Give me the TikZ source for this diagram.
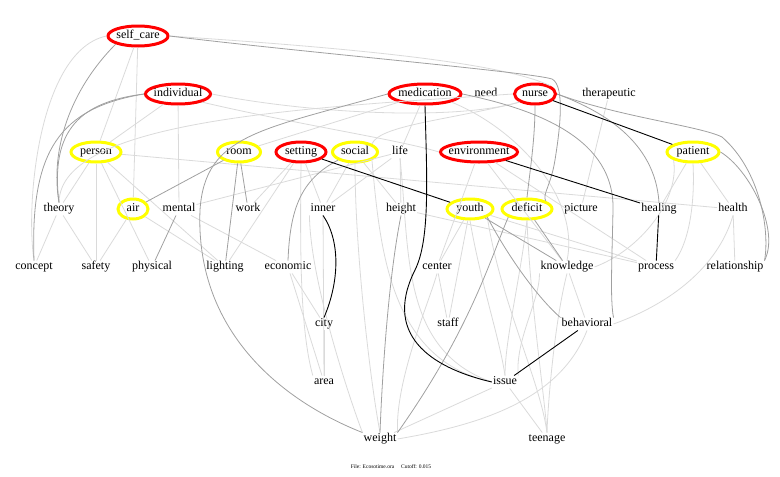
\documentclass[tikz,border=0pt]{standalone}
\usepackage{fontspec}
\setmainfont{Liberation Serif}
\usepackage{tikz}
\usetikzlibrary{shapes.geometric}
\definecolor{hotcolor}{RGB}{255,0,0}
\definecolor{warmcolor}{RGB}{255,255,0}
\definecolor{litecolor}{RGB}{218,218,218}
\definecolor{midcolor}{RGB}{160,160,160}

\begin{document}
\begin{tikzpicture}[
    x=1pt, y=-1pt,
    every node/.style={font=\fontsize{12}{14}\selectfont, text height=8pt, text depth=2.5pt},
    term/.style={inner sep=1pt},
    ring/.style={ellipse, line width=3pt, inner xsep=-5pt, inner ysep=-3pt, minimum height=20pt, minimum width=#1},
    hot/.style={ring=#1, draw=hotcolor},
    warm/.style={ring=#1, draw=warmcolor},
    lite/.style={draw=litecolor, line width=0.8pt},
    mid/.style={draw=midcolor, line width=0.8pt},
    strong/.style={draw=black, line width=0.9pt}
]
    \useasboundingbox (0,0) rectangle (780,477);

    % Row 1 and 2
    \node[hot=60] (selfcare) at (138,36) {self\_care};
    \node[hot=65] (individual) at (178,94) {individual};
    \node[hot=72] (medication) at (425,94) {medication};
    \node[term] (need) at (486,94) {need};
    \node[hot=41] (nurse) at (535,94) {nurse};
    \node[term] (therapeutic) at (609,94) {therapeutic};

    % Row 3
    \node[warm=50] (person) at (96,152) {person};
    \node[warm=43] (room) at (239,152) {room};
    \node[hot=50] (setting) at (301,152) {setting};
    \node[warm=45] (social) at (355,152) {social};
    \node[term] (life) at (400,152) {life};
    \node[hot=77] (environment) at (479,152) {environment};
    \node[warm=52] (patient) at (693,152) {patient};

    % Row 4
    \node[term] (theory) at (59,209) {theory};
    \node[warm=30] (air) at (133,209) {air};
    \node[term] (mental) at (179,209) {mental};
    \node[term] (work) at (248,209) {work};
    \node[term] (inner) at (323,209) {inner};
    \node[term] (height) at (401,209) {height};
    \node[warm=46] (youth) at (470,209) {youth};
    \node[warm=50] (deficit) at (527,209) {deficit};
    \node[term] (picture) at (581,209) {picture};
    \node[term] (healing) at (659,209) {healing};
    \node[term] (health) at (733,209) {health};

    % Row 5
    \node[term] (concept) at (34,267) {concept};
    \node[term] (safety) at (96,267) {safety};
    \node[term] (physical) at (152,267) {physical};
    \node[term] (lighting) at (225,267) {lighting};
    \node[term] (economic) at (288,267) {economic};
    \node[term] (center) at (437,267) {center};
    \node[term] (knowledge) at (567,267) {knowledge};
    \node[term] (process) at (656,267) {process};
    \node[term] (relationship) at (735,267) {relationship};

    % Rows 6 to 8
    \node[term] (city) at (324,324) {city};
    \node[term] (staff) at (448,324) {staff};
    \node[term] (behavioral) at (587,324) {behavioral};
    \node[term] (area) at (324,382) {area};
    \node[term] (issue) at (505,382) {issue};
    \node[term] (weight) at (380,439) {weight};
    \node[term] (teenage) at (547,439) {teenage};

    % Footer
    \node[font=\fontsize{5.5}{6}\selectfont] (footer) at (391,466) {File: Ecosotime.ora\quad\ Cutoff: 0.015};

    % Weak links
    \draw[lite] (selfcare.west) .. controls (40,50) and (25,200) .. (concept.north);
    \draw[lite] (selfcare) -- (person);
    \draw[lite] (selfcare) -- (air);
    \draw[lite] (selfcare.east) .. controls (350,48) and (500,62) .. (nurse.north east);
    \draw[lite] (individual) -- (mental);
    \draw[lite] (individual) -- (person);
    \draw[lite] (individual.east) .. controls (300,112) and (450,122) .. (nurse.south west);
    \draw[lite] (individual.south east) .. controls (300,125) and (400,140) .. (environment.west);
    \draw[lite] (person) -- (theory);
    \draw[lite] (person) -- (safety);
    \draw[lite] (person) -- (physical);
    \draw[lite] (person) -- (lighting);
    \draw[lite] (person) -- (health);
    \draw[lite] (theory) -- (concept);
    \draw[lite] (theory) -- (safety);
    \draw[lite] (air) -- (safety);
    \draw[lite] (air) -- (lighting);
    \draw[lite] (mental) -- (economic);
    \draw[lite] (mental) -- (life);
    \draw[lite] (nurse.west) .. controls (300,108) and (60,120) .. (theory.north);
    \draw[lite] (nurse.south west) .. controls (450,120) and (380,125) .. (social.north east);
    \draw[lite] (medication) -- (room);
    \draw[lite] (medication) -- (life);
    \draw[lite] (medication.south east) .. controls (520,130) and (580,200) .. (knowledge.north);
    \draw[lite] (setting) -- (inner);
    \draw[lite] (setting) -- (work);
    \draw[lite] (setting) -- (lighting);
    \draw[lite] (setting.south) .. controls (300,250) and (300,330) .. (area.north west);
    \draw[lite] (social) -- (inner);
    \draw[lite] (social) -- (height);
    \draw[lite] (social.south) .. controls (355,250) and (370,380) .. (weight.north);
    \draw[lite] (social.south east) .. controls (380,250) and (390,360) .. (issue.west);
    \draw[lite] (life) -- (height);
    \draw[lite] (life) -- (inner);
    \draw[lite] (life.south) .. controls (410,250) and (400,350) .. (issue.west);
    \draw[lite] (inner) -- (area);
    \draw[lite] (inner.south west) .. controls (310,280) and (350,400) .. (weight.north west);
    \draw[lite] (economic) -- (city);
    \draw[lite] (economic) -- (area);
    \draw[lite] (city) -- (area);
    \draw[lite] (environment) -- (center);
    \draw[lite] (environment) -- (knowledge);
    \draw[lite] (environment) -- (process);
    \draw[lite] (therapeutic) -- (picture);
    \draw[lite] (patient) -- (healing);
    \draw[lite] (patient) -- (health);
    \draw[lite] (patient.south) .. controls (695,200) and (690,240) .. (process.north east);
    \draw[lite] (patient.south west) .. controls (680,200) and (640,250) .. (knowledge.east);
    \draw[lite] (youth) -- (center);
    \draw[lite] (youth) -- (staff);
    \draw[lite] (youth) -- (process);
    \draw[lite] (youth.south) .. controls (480,280) and (500,340) .. (issue.north);
    \draw[lite] (youth.south east) .. controls (500,300) and (540,380) .. (teenage.north);
    \draw[lite] (height) -- (process);
    \draw[lite] (deficit.south) .. controls (520,280) and (505,340) .. (issue.north);
    \draw[lite] (deficit.south) .. controls (530,300) and (545,400) .. (teenage.north);
    \draw[lite] (center) -- (staff);
    \draw[lite] (center.south) .. controls (430,300) and (395,380) .. (weight.north east);
    \draw[lite] (knowledge) -- (behavioral);
    \draw[lite] (knowledge.south west) .. controls (540,300) and (515,340) .. (issue.north east);
    \draw[lite] (knowledge.south) .. controls (555,320) and (548,400) .. (teenage.north);
    \draw[lite] (behavioral.east) .. controls (680,300) and (720,260) .. (health.south);
    \draw[lite] (health) -- (relationship);
    \draw[lite] (weight) -- (issue);
    \draw[lite] (weight.east) .. controls (480,425) and (560,400) .. (behavioral.south);
    \draw[lite] (issue) -- (teenage);

    % Medium links
    \draw[mid] (selfcare.east) .. controls (300,52) and (530,72) .. (552,79) .. controls (566,86) and (559,135) .. (555,160) .. controls (551,185) and (542,195) .. (deficit.north east);
    \draw[mid] (nurse.east) .. controls (620,117) and (700,126) .. (722,137) .. controls (760,170) and (770,230) .. (relationship.north east);
    \draw[mid] (selfcare.south west) .. controls (70,90) and (50,150) .. (theory.north);
    \draw[mid] (individual.west) .. controls (80,102) and (50,130) .. (theory.north);
    \draw[mid] (individual.west) .. controls (60,108) and (30,150) .. (concept.north);
    \draw[mid] (medication.west) .. controls (260,130) and (205,135) .. (200,210) .. controls (195,330) and (280,400) .. (weight.north west);
    \draw[mid] (medication.east) .. controls (540,110) and (615,140) .. (613,210) .. controls (612,260) and (610,300) .. (behavioral.north east);
    \draw[mid] (nurse.east) .. controls (600,110) and (655,140) .. (healing.north);
    \draw[mid] (nurse.south) .. controls (535,140) and (530,170) .. (deficit.north);
    \draw[mid] (room) -- (air);
    \draw[mid] (room) -- (lighting);
    \draw[mid] (room) -- (work);
    \draw[mid] (social.south west) .. controls (300,180) and (290,210) .. (economic.north);
    \draw[mid] (mental) -- (physical);
    \draw[mid] (youth) -- (knowledge);
    \draw[mid] (youth.south east) .. controls (510,260) and (540,300) .. (behavioral.north west);
    \draw[mid] (deficit) -- (knowledge);
    \draw[mid] (deficit.south west) .. controls (490,260) and (470,330) .. (weight.north east);
    \draw[mid] (height.south) .. controls (388,280) and (382,380) .. (weight.north);
    \draw[mid] (patient.east) .. controls (750,170) and (780,230) .. (relationship.north east);

    % Strong links
    \draw[strong] (nurse) -- (patient);
    \draw[strong] (setting) -- (youth);
    \draw[strong] (environment) -- (healing);
    \draw[strong] (healing) -- (process);
    \draw[strong] (behavioral) -- (issue);
    \draw[strong] (medication.south) .. controls (427,180) and (430,240) .. (415,270) .. controls (380,340) and (440,370) .. (issue.west);
    \draw[strong] (inner.south) .. controls (340,240) and (340,280) .. (city.north);
\end{tikzpicture}
\end{document}
